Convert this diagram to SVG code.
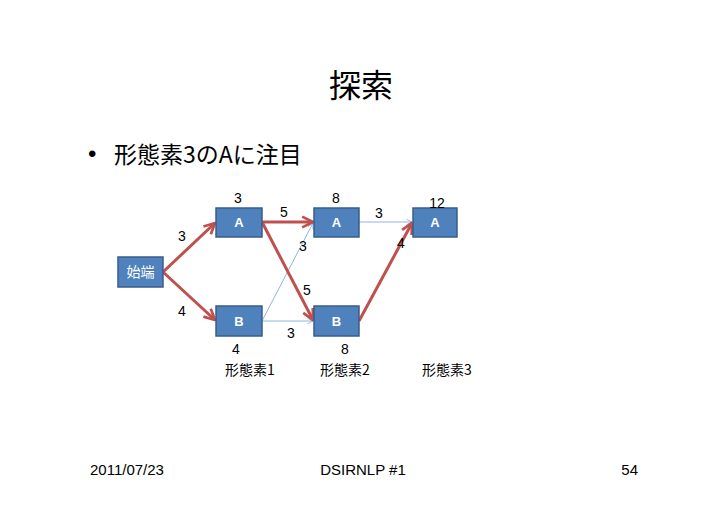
<svg xmlns="http://www.w3.org/2000/svg" width="728" height="515" viewBox="0 0 728 515">
<defs>
<style>
.t{font-family:"Liberation Sans","Noto Sans CJK JP",sans-serif;fill:#000}
.j{font-family:"Noto Sans CJK JP","Liberation Sans",sans-serif;fill:#000}
.box{fill:#4F81BD;stroke:#385D8A;stroke-width:1.5}
.nl{font-family:"Liberation Sans",sans-serif;font-weight:bold;font-size:13px;fill:#fff;text-anchor:middle}
.red{stroke:#C0504D;stroke-width:3;fill:none;marker-end:url(#ar)}
.blue{stroke:#8EB4E3;stroke-width:1;fill:none;marker-end:url(#ab)}
.lab{font-family:"Liberation Sans",sans-serif;font-size:14px;fill:#000;text-anchor:middle}
</style>
<marker id="ar" viewBox="0 0 10 10" refX="9" refY="5" markerWidth="4.5" markerHeight="4.5" orient="auto" markerUnits="strokeWidth">
<path d="M1,1 L9,5 L1,9" fill="none" stroke="#C0504D" stroke-width="2"/>
</marker>
<marker id="ab" viewBox="0 0 10 10" refX="9" refY="5" markerWidth="7" markerHeight="7" orient="auto" markerUnits="strokeWidth">
<path d="M1,1 L9,5 L1,9" fill="none" stroke="#8EB4E3" stroke-width="1.2"/>
</marker>
</defs>
<rect width="728" height="515" fill="#fff"/>
<text class="j" x="361" y="97" font-size="32" text-anchor="middle">探索</text>
<text class="t" x="88" y="162" font-size="24">•</text>
<text class="j" x="114" y="163" font-size="23">形態素3のAに注目</text>
<g id="connectors">
<line class="blue" x1="262" y1="321" x2="313" y2="223"/>
<line class="blue" x1="262" y1="321" x2="313" y2="321"/>
<line class="blue" x1="359" y1="222" x2="412" y2="222"/>
<line class="red" x1="163" y1="272" x2="215" y2="223"/>
<line class="red" x1="163" y1="272" x2="215" y2="320"/>
<line class="red" x1="262" y1="222" x2="313" y2="222"/>
<line class="red" x1="262" y1="222" x2="313" y2="320"/>
<line class="red" x1="359" y1="321" x2="412" y2="223"/>
<text class="lab" x="182" y="241">3</text>
<text class="lab" x="182" y="316">4</text>
<text class="lab" x="284" y="217">5</text>
<text class="lab" x="379" y="218">3</text>
<text class="lab" x="303" y="251">3</text>
<text class="lab" x="307" y="295">5</text>
<text class="lab" x="291" y="338">3</text>
<text class="lab" x="401" y="248">4</text>
</g>
<g id="start">
<rect class="box" x="118" y="257" width="45" height="30"/>
<text class="j" x="140.5" y="277" font-size="14" text-anchor="middle" style="fill:#fff">始端</text>
</g>
<g id="A1">
<rect class="box" x="216" y="208" width="46" height="29"/>
<text class="nl" x="239" y="227">A</text>
<text class="lab" x="238" y="203">3</text>
</g>
<g id="B1">
<rect class="box" x="216" y="306" width="46" height="30"/>
<text class="nl" x="239" y="326">B</text>
<text class="lab" x="236" y="354">4</text>
</g>
<g id="A2">
<rect class="box" x="314" y="208" width="45" height="29"/>
<text class="nl" x="336.5" y="227">A</text>
<text class="lab" x="336" y="203">8</text>
</g>
<g id="B2">
<rect class="box" x="314" y="306" width="45" height="30"/>
<text class="nl" x="336.5" y="326">B</text>
<text class="lab" x="345" y="354">8</text>
</g>
<g id="A3">
<rect class="box" x="413" y="208" width="44" height="29"/>
<text class="nl" x="435" y="227">A</text>
<text class="lab" x="437" y="208">12</text>
</g>
<g id="labels">
<text class="j" x="250" y="375" font-size="14" text-anchor="middle">形態素1</text>
<text class="j" x="345" y="375" font-size="14" text-anchor="middle">形態素2</text>
<text class="j" x="447" y="375" font-size="14" text-anchor="middle">形態素3</text>
</g>
<text class="t" x="90" y="475" font-size="15">2011/07/23</text>
<text class="t" x="363" y="475" font-size="15" text-anchor="middle">DSIRNLP #1</text>
<text class="t" x="638" y="475" font-size="15" text-anchor="end">54</text>
</svg>
